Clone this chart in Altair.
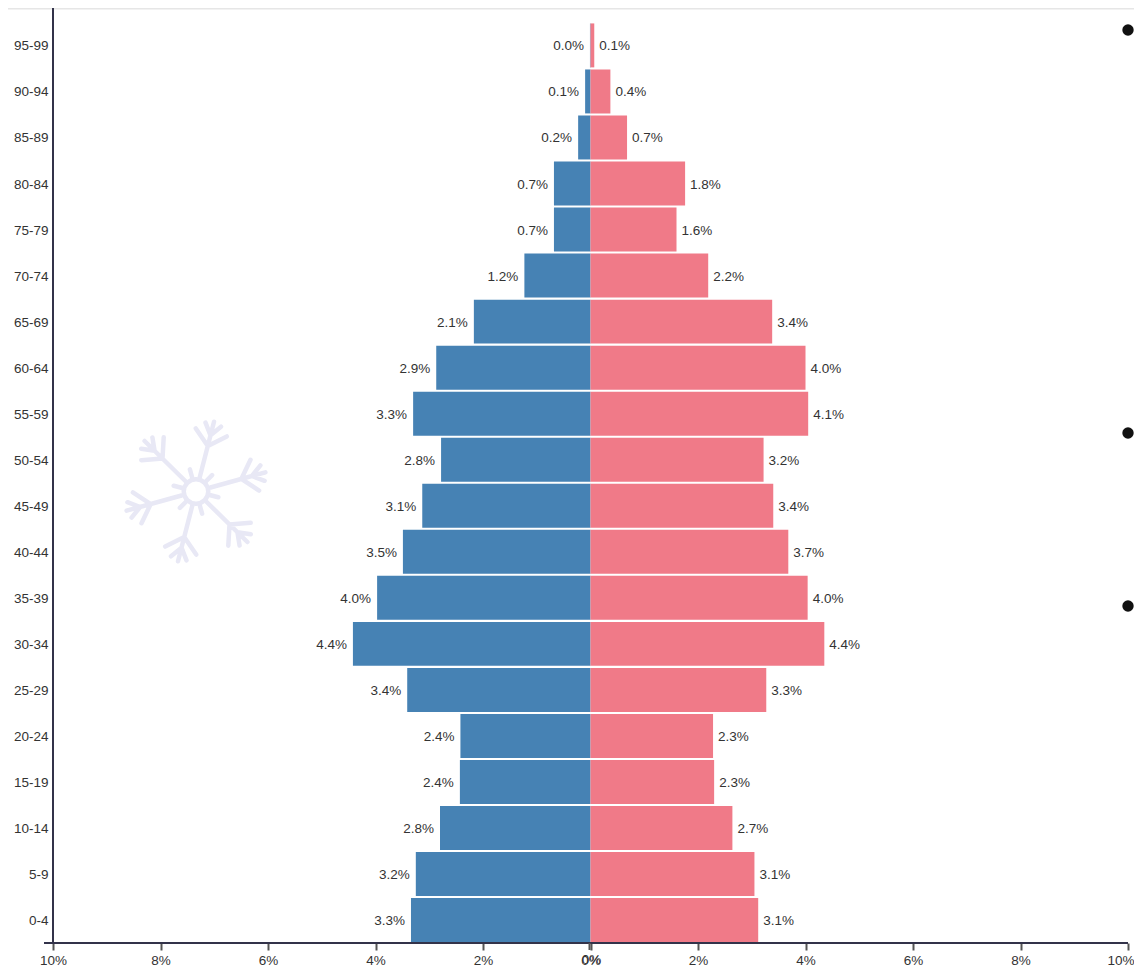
import math
import altair as alt
import pandas as pd

ages = ["0-4", "5-9", "10-14", "15-19", "20-24", "25-29", "30-34", "35-39", "40-44", "45-49",
        "50-54", "55-59", "60-64", "65-69", "70-74", "75-79", "80-84", "85-89", "90-94", "95-99"]
male = [3.34, 3.25, 2.80, 2.43, 2.42, 3.41, 4.42, 3.97, 3.49, 3.13,
        2.78, 3.30, 2.87, 2.17, 1.23, 0.68, 0.68, 0.23, 0.10, 0.01]
female = [3.12, 3.05, 2.64, 2.30, 2.28, 3.27, 4.35, 4.04, 3.68, 3.40,
          3.22, 4.05, 4.00, 3.38, 2.19, 1.60, 1.76, 0.68, 0.37, 0.07]
male_labels = ["3.3%", "3.2%", "2.8%", "2.4%", "2.4%", "3.4%", "4.4%", "4.0%", "3.5%", "3.1%",
               "2.8%", "3.3%", "2.9%", "2.1%", "1.2%", "0.7%", "0.7%", "0.2%", "0.1%", "0.0%"]
female_labels = ["3.1%", "3.1%", "2.7%", "2.3%", "2.3%", "3.3%", "4.4%", "4.0%", "3.7%", "3.4%",
                 "3.2%", "4.1%", "4.0%", "3.4%", "2.2%", "1.6%", "1.8%", "0.7%", "0.4%", "0.1%"]
tick_values = [-10, -8, -6, -4, -2, 0, 2, 4, 6, 8, 10]

BLUE = "#4682b4"
PINK = "#f07a88"
DARK = "#33334a"
TEXT = "#333333"
FS = 13.5
W, H = 1075, 935

rows = pd.DataFrame({
    "age": ages * 2,
    "value": [-v for v in male] + female,
    "label": male_labels + female_labels,
    "sex": ["M"] * len(ages) + ["F"] * len(ages),
})

x_scale = alt.Scale(domain=[-10, 10], nice=False)
y_scale = alt.Scale(domain=ages[::-1], range=[14.5, H], paddingInner=0.045, paddingOuter=0.02)

x_enc = alt.X("value:Q", scale=x_scale,
              axis=alt.Axis(values=tick_values, labelExpr="abs(datum.value) + '%'", title=None,
                            grid=False, domain=False, tickColor="#555555", tickSize=7, tickWidth=2,
                            labelColor=TEXT, labelFontSize=FS, labelFont="Liberation Sans",
                            labelPadding=3, labelFlush=False, labelOverlap=False,
                            labelAlign=alt.condition("datum.value == 10", alt.value("right"), alt.value("center")),
                            labelOffset=alt.condition("datum.value == 10", alt.value(6), alt.value(0))))
y_enc = alt.Y("age:N", scale=y_scale, sort=ages[::-1],
              axis=alt.Axis(title=None, ticks=False, domain=False, grid=False, labelColor=TEXT,
                            labelFontSize=FS, labelFont="Liberation Sans", labelPadding=5, labelOffset=1))

base = alt.Chart(rows)
bars = base.mark_bar().encode(
    x=x_enc, y=y_enc,
    color=alt.Color("sex:N", scale=alt.Scale(domain=["M", "F"], range=[BLUE, PINK]), legend=None),
)
left_text = base.transform_filter("datum.sex == 'M'").mark_text(
    align="right", baseline="middle", dx=-6, dy=1, fontSize=FS, font="Liberation Sans", color=TEXT
).encode(x=alt.X("value:Q", scale=x_scale), y=alt.Y("age:N", scale=y_scale, sort=ages[::-1]), text="label:N")
right_text = base.transform_filter("datum.sex == 'F'").mark_text(
    align="left", baseline="middle", dx=5, dy=1, fontSize=FS, font="Liberation Sans", color=TEXT
).encode(x=alt.X("value:Q", scale=x_scale), y=alt.Y("age:N", scale=y_scale, sort=ages[::-1]), text="label:N")

one = pd.DataFrame({"a": [0]})
top_line = alt.Chart(one).mark_rule(color="#e6e6e6", strokeWidth=2).encode(
    x=alt.value(-45), x2=alt.value(1081), y=alt.value(0.5))
y_line = alt.Chart(one).mark_rule(color=DARK, strokeWidth=2).encode(
    x=alt.value(0), y=alt.value(0), y2=alt.value(H))
x_line = alt.Chart(one).mark_rule(color=DARK, strokeWidth=2).encode(
    x=alt.value(-9), x2=alt.value(W), y=alt.value(H))
second_tick = alt.Chart(one).mark_rule(color="#555555", strokeWidth=2, xOffset=-1).encode(
    x=alt.datum(0, scale=x_scale), y=alt.value(H), y2=alt.value(H + 7))
second_zero = alt.Chart(one).mark_text(
    text="0%", baseline="middle", fontSize=FS, font="Liberation Sans", color=TEXT, xOffset=1
).encode(x=alt.datum(0, scale=x_scale), y=alt.value(H + 17))

dots = [
    alt.Chart(one).mark_circle(color="#111111", opacity=1, size=130).encode(x=alt.value(1075), y=alt.value(py))
    for py in [22, 425, 598]
]

# decorative snowflake as a custom symbol, coordinates in hundredths of a pixel radius
parts = []
for i in range(6):
    a = math.radians(-75.5 + 60 * i)
    ca, sa = math.cos(a), math.sin(a)
    def pt(u, v):
        return f"{(u * ca - v * sa) / 100:.3f},{(u * sa + v * ca) / 100:.3f}"
    parts.append(f"M{pt(15, 0)}L{pt(72, 0)}")
    parts.append(f"M{pt(47, 0)}L{pt(61, 16)}M{pt(47, 0)}L{pt(61, -16)}")
    parts.append(f"M{pt(58, 0)}L{pt(69, 8)}M{pt(58, 0)}L{pt(69, -8)}")
    b = a + math.radians(30)
    cb, sb = math.cos(b), math.sin(b)
    parts.append(f"M{14 * cb / 100:.3f},{14 * sb / 100:.3f}L{23 * cb / 100:.3f},{23 * sb / 100:.3f}")
flake_path = "".join(parts)
flake = alt.Chart(one).mark_point(
    shape=flake_path, size=40000, filled=False, stroke="#e8e8f5", strokeWidth=4.5,
    strokeCap="round", opacity=1
).encode(x=alt.value(143), y=alt.value(483.5))
ring = alt.Chart(one).mark_point(
    shape="circle", size=600, filled=False, stroke="#e8e8f5", strokeWidth=4.5, opacity=1
).encode(x=alt.value(143), y=alt.value(483.5))

chart = alt.layer(
    flake, ring, bars, left_text, right_text, top_line, y_line, x_line, second_tick, second_zero, *dots
).properties(
    width=W, height=H, autosize=alt.AutoSizeParams(type="none"),
    padding={"left": 45, "top": 0, "right": 6, "bottom": 24},
).configure_view(stroke=None)

chart.save("out.html", embed_options={"renderer": "svg", "actions": False})
